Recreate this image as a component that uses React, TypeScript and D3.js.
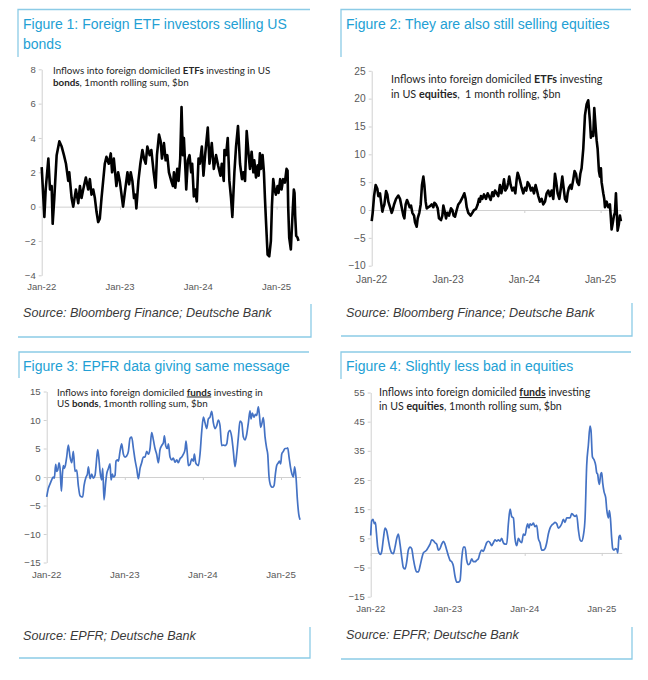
import React, { useEffect, useRef } from "react";
import * as d3 from "d3";

// [years since Jan-22, $bn]
type Pt = [number, number];
type Seg = [string, string?];

const yearTicks = [0, 1, 2, 3];
const yearLabels = ["Jan-22", "Jan-23", "Jan-24", "Jan-25"];

const etfBondTicks = [-4, -2, 0, 2, 4, 6, 8];
const etfEquityTicks = [-10, -5, 0, 5, 10, 15, 20, 25];
const fundBondTicks = [-15, -10, -5, 0, 5, 10, 15];
const fundEquityTicks = [-15, -5, 5, 15, 25, 35, 45, 55];

const etfBonds: Pt[] = [
  [0, 2.3], [0.034, -0.6], [0.051, 1.0], [0.085, 2.8], [0.106, 1.0], [0.127, 1.2], [0.14, -1.0], [0.161, 0.5],
  [0.191, 3.0], [0.225, 3.8], [0.255, 3.5], [0.284, 3.0], [0.31, 2.5], [0.339, 1.5], [0.352, 2.0], [0.382, 0.5],
  [0.403, 0.0], [0.437, 1.0], [0.467, 0.2], [0.488, 1.2], [0.509, 0.5], [0.53, 1.0], [0.564, 1.7], [0.594, 1.0],
  [0.615, 1.6], [0.636, 0.7], [0.658, 1.0], [0.679, 0.5], [0.7, -0.3], [0.721, -0.9], [0.742, -0.7], [0.764, 0.5],
  [0.806, 2.5], [0.827, 2.9], [0.857, 2.5], [0.882, 3.1], [0.899, 2.0], [0.921, 2.8], [0.954, 1.2], [0.976, 2.0],
  [0.997, 1.5], [1.039, 0.0], [1.061, 0.8], [1.095, 2.0], [1.116, 1.3], [1.137, 2.0], [1.158, 1.5], [1.179, 0.5],
  [1.196, 0.7], [1.209, -0.1], [1.235, 1.5], [1.26, 2.5], [1.286, 3.3], [1.307, 2.8], [1.328, 2.5], [1.349, 3.5],
  [1.379, 3.0], [1.4, 3.3], [1.43, 2.0], [1.455, 1.1], [1.472, 3.0], [1.498, 4.2], [1.519, 3.8], [1.536, 2.8],
  [1.561, 3.7], [1.583, 2.7], [1.604, 3.0], [1.625, 2.0], [1.655, 1.5], [1.676, 1.2], [1.689, 2.0], [1.706, 1.1],
  [1.731, 2.2], [1.748, 1.5], [1.769, 2.8], [1.786, 5.8], [1.803, 3.0], [1.816, 4.0], [1.837, 2.0], [1.846, 1.0],
  [1.867, 2.7], [1.888, 3.0], [1.909, 2.0], [1.922, 2.5], [1.943, 0.6], [1.96, 1.0], [1.981, 0.3], [2.003, 2.8],
  [2.02, 2.5], [2.045, 3.5], [2.066, 1.8], [2.087, 3.0], [2.121, 4.6], [2.143, 2.5], [2.172, 3.7], [2.198, 2.2],
  [2.227, 3.0], [2.253, 2.4], [2.283, 1.8], [2.3, 2.5], [2.325, 1.5], [2.334, 3.3], [2.355, 3.0], [2.376, 4.0],
  [2.397, 1.5], [2.418, 0.5], [2.435, -0.6], [2.461, 2.0], [2.482, 3.5], [2.507, 4.7], [2.533, 2.5], [2.558, 1.6],
  [2.575, 2.0], [2.597, 1.5], [2.618, 4.4], [2.643, 3.0], [2.66, 2.2], [2.681, 3.2], [2.703, 2.0], [2.715, 2.7],
  [2.737, 1.7], [2.758, 2.4], [2.771, 1.8], [2.787, 3.1], [2.8, 2.2], [2.821, 3.0], [2.838, 2.0], [2.851, 0.5],
  [2.864, -0.8], [2.885, -2.8], [2.906, -2.9], [2.927, -2.0], [2.94, 0.0], [2.957, 1.6], [2.974, 1.0], [2.991, 0.7],
  [3.012, 1.2], [3.025, 0.8], [3.046, 1.6], [3.063, 1.0], [3.084, 1.6], [3.106, 1.4], [3.127, 2.2], [3.14, 2.1],
  [3.148, 0.0], [3.161, -1.8], [3.182, -2.5], [3.203, -0.5], [3.22, 1.0], [3.229, 0.8], [3.237, -0.5], [3.25, -1.7],
  [3.267, -1.8], [3.28, -2.0],
];

const etfEquities: Pt[] = [
  [0, -2.0], [0.013, -0.5], [0.031, 2.5], [0.052, 4.5], [0.074, 3.8], [0.087, 2.5], [0.109, 3.0], [0.122, 1.5],
  [0.14, -0.3], [0.153, 0.5], [0.166, 1.0], [0.188, 3.4], [0.205, 2.8], [0.218, 1.5], [0.24, 0.5], [0.262, -0.5],
  [0.275, 0.0], [0.293, 1.0], [0.319, 2.0], [0.349, 2.6], [0.371, 2.0], [0.393, 0.5], [0.415, -1.0], [0.428, -1.5],
  [0.445, 1.0], [0.463, 1.8], [0.48, 1.2], [0.498, 0.5], [0.515, 0.8], [0.533, -0.5], [0.555, -1.0], [0.568, -2.2],
  [0.59, -3.0], [0.603, -1.5], [0.624, -0.5], [0.642, 1.0], [0.659, 4.5], [0.677, 6.0], [0.69, 4.5], [0.707, 1.5],
  [0.721, 0.3], [0.742, 0.5], [0.764, 0.7], [0.786, 1.0], [0.808, 0.5], [0.821, 1.3], [0.843, 1.0], [0.865, 0.3],
  [0.882, -1.5], [0.908, -1.8], [0.926, -1.0], [0.939, 0.8], [0.961, -0.5], [0.974, -1.5], [0.991, -0.5], [1.013, -1.0],
  [1.039, 0.3], [1.057, 0.0], [1.074, -1.0], [1.092, -1.2], [1.114, 0.0], [1.135, 1.0], [1.162, 1.5], [1.192, 2.3],
  [1.214, 3.0], [1.231, 2.0], [1.245, 0.5], [1.266, -0.5], [1.297, -1.0], [1.319, -0.5], [1.341, 0.0], [1.367, 0.2],
  [1.389, 1.0], [1.406, 2.0], [1.419, 1.5], [1.432, 2.5], [1.45, 2.0], [1.472, 2.8], [1.498, 2.0], [1.52, 3.0],
  [1.537, 2.5], [1.559, 1.8], [1.581, 3.2], [1.598, 2.5], [1.616, 3.5], [1.638, 3.0], [1.659, 2.5], [1.681, 4.5],
  [1.699, 3.0], [1.716, 4.0], [1.734, 5.5], [1.751, 3.5], [1.773, 4.0], [1.79, 5.0], [1.803, 6.0], [1.821, 4.5],
  [1.843, 3.5], [1.865, 4.0], [1.882, 3.0], [1.9, 5.5], [1.913, 6.7], [1.93, 6.0], [1.948, 5.0], [1.965, 4.0],
  [1.987, 3.0], [2.009, 4.0], [2.026, 3.5], [2.044, 5.0], [2.066, 4.5], [2.087, 3.5], [2.105, 4.0], [2.127, 3.0],
  [2.148, 4.5], [2.166, 3.5], [2.183, 2.5], [2.205, 1.5], [2.227, 2.0], [2.249, 1.0], [2.271, 1.5], [2.293, 3.0],
  [2.314, 3.5], [2.336, 2.5], [2.358, 3.5], [2.38, 2.0], [2.402, 6.5], [2.419, 5.0], [2.437, 3.0], [2.459, 2.0],
  [2.48, 4.0], [2.498, 6.0], [2.515, 4.0], [2.533, 2.0], [2.555, 1.5], [2.568, 3.0], [2.585, 4.0], [2.607, 4.5],
  [2.62, 3.8], [2.642, 5.5], [2.659, 7.0], [2.677, 6.5], [2.694, 5.0], [2.716, 4.5], [2.734, 6.5], [2.751, 7.5],
  [2.773, 11], [2.795, 17], [2.817, 19], [2.838, 19.7], [2.86, 16], [2.873, 13], [2.891, 14], [2.904, 13.3],
  [2.917, 18.3], [2.934, 15], [2.948, 12.5], [2.961, 11], [2.978, 7], [2.991, 6], [3.004, 7.5], [3.013, 5.0],
  [3.035, 3.0], [3.048, 2.0], [3.057, 0.5], [3.079, 1.5], [3.1, 0.5], [3.122, 1.0], [3.135, -1.5], [3.144, -3.5],
  [3.157, -2.5], [3.175, -1.0], [3.188, -0.5], [3.201, 3.0], [3.214, -1.0], [3.223, -3.7], [3.24, -2.5], [3.253, -1.0],
  [3.266, -2.0],
];

const fundBonds: Pt[] = [
  [0, -3.5], [0.021, -2.0], [0.043, -1.2], [0.064, -0.5], [0.085, 0.0], [0.098, -0.2], [0.115, 2.2], [0.128, 1.0],
  [0.141, 1.2], [0.158, 2.5], [0.171, 1.5], [0.188, -2.5], [0.201, 0.5], [0.213, 2.0], [0.226, 1.5], [0.239, 2.0],
  [0.256, 3.5], [0.277, 5.6], [0.299, 3.5], [0.32, 2.5], [0.341, 4.5], [0.363, 1.0], [0.384, 1.2], [0.405, -1.5],
  [0.427, -3.3], [0.448, -3.5], [0.461, -3.5], [0.478, -1.5], [0.504, 0.0], [0.521, 0.5], [0.534, 1.8], [0.555, -0.3],
  [0.576, 0.5], [0.598, -0.2], [0.619, 0.3], [0.632, 2.0], [0.653, 4.8], [0.67, 3.0], [0.683, 1.0], [0.704, -0.5],
  [0.717, 1.5], [0.734, -4.0], [0.755, -1.0], [0.768, 0.5], [0.79, 1.5], [0.811, 2.3], [0.824, -0.5], [0.841, 0.5],
  [0.854, 0.0], [0.875, 0.3], [0.888, 2.8], [0.905, 3.0], [0.918, 2.8], [0.939, 4.5], [0.96, 5.8], [0.982, 4.0],
  [1.003, 3.5], [1.024, 3.7], [1.046, 4.5], [1.067, 6.8], [1.088, 7.0], [1.11, 5.0], [1.131, 3.0], [1.152, 1.5],
  [1.174, -0.3], [1.195, 1.5], [1.216, 2.5], [1.238, 3.5], [1.259, 3.5], [1.28, 4.5], [1.302, 4.0], [1.323, 5.0],
  [1.344, 7.8], [1.366, 6.5], [1.387, 5.0], [1.408, 4.0], [1.43, 2.5], [1.451, 4.8], [1.472, 5.5], [1.494, 6.0],
  [1.507, 7.2], [1.524, 5.5], [1.545, 5.0], [1.558, 5.8], [1.579, 3.5], [1.601, 3.0], [1.622, 3.3], [1.643, 2.6],
  [1.665, 3.0], [1.686, 2.5], [1.707, 3.2], [1.729, 3.5], [1.75, 4.0], [1.771, 4.8], [1.784, 6.3], [1.801, 4.0],
  [1.814, 2.0], [1.835, 2.2], [1.857, 3.2], [1.878, 2.8], [1.891, 4.0], [1.908, 2.5], [1.921, 2.2], [1.942, 2.0],
  [1.963, 4.0], [1.985, 8.0], [2.006, 10.5], [2.027, 9.5], [2.049, 8.5], [2.07, 10.2], [2.091, 10.5], [2.113, 11.5],
  [2.134, 9.5], [2.155, 8.5], [2.177, 9.0], [2.198, 10.0], [2.219, 9.0], [2.241, 5.5], [2.262, 5.6], [2.283, 5.5],
  [2.305, 5.8], [2.326, 7.8], [2.347, 8.2], [2.369, 7.0], [2.39, 4.5], [2.411, 1.8], [2.433, 4.0], [2.454, 7.0],
  [2.475, 9.8], [2.497, 9.5], [2.518, 7.0], [2.539, 6.5], [2.561, 7.5], [2.582, 9.5], [2.603, 11.6], [2.616, 10.2],
  [2.633, 11.2], [2.655, 10.5], [2.672, 11.0], [2.689, 10.8], [2.71, 12.3], [2.723, 11.0], [2.74, 8.7], [2.757, 9.5],
  [2.774, 10.4], [2.796, 7.0], [2.817, 5.0], [2.83, 4.0], [2.847, 0.0], [2.868, -1.5], [2.889, -1.8], [2.911, -1.5],
  [2.928, 0.5], [2.945, 2.0], [2.966, 2.5], [2.979, 2.8], [2.996, 2.3], [3.009, 4.0], [3.03, 4.5], [3.052, 5.0],
  [3.073, 5.0], [3.086, 5.1], [3.103, 3.5], [3.124, 1.5], [3.141, 0.5], [3.158, 0.0], [3.175, 1.8], [3.192, 0.0],
  [3.21, -4.0], [3.227, -6.5], [3.244, -7.5],
];

const fundEquities: Pt[] = [
  [0, 6.0], [0.013, 11.0], [0.03, 11.5], [0.048, 10.0], [0.061, 10.5], [0.074, 7.0], [0.091, 2.0], [0.108, 0.0],
  [0.126, -0.5], [0.143, 0.5], [0.165, 5.0], [0.186, 8.5], [0.208, 7.5], [0.229, 4.5], [0.251, 1.5], [0.273, 0.0],
  [0.294, -0.2], [0.316, 2.0], [0.338, 5.0], [0.359, 6.5], [0.381, 3.0], [0.403, -1.5], [0.424, -5.0], [0.446, -5.5],
  [0.468, -3.0], [0.489, 1.0], [0.511, 2.0], [0.532, 1.5], [0.554, -2.0], [0.576, -5.0], [0.597, -6.5], [0.619, -6.5],
  [0.641, -4.5], [0.662, -2.0], [0.684, 0.0], [0.706, 0.5], [0.727, 1.0], [0.749, 2.0], [0.771, 3.0], [0.792, 4.5],
  [0.814, 4.2], [0.835, 3.5], [0.857, 3.0], [0.879, 1.0], [0.9, 1.5], [0.922, 3.0], [0.944, 4.0], [0.965, 3.0],
  [0.987, 1.0], [1.009, -1.0], [1.03, -2.5], [1.052, -3.0], [1.074, -4.5], [1.095, -8.0], [1.117, -10.0], [1.139, -10.0],
  [1.16, -9.5], [1.182, -2.0], [1.203, 2.0], [1.225, 2.0], [1.247, -2.5], [1.268, -4.0], [1.29, -3.5], [1.312, -2.0],
  [1.333, -3.0], [1.355, -3.0], [1.377, -2.5], [1.398, -2.0], [1.42, 0.0], [1.442, 1.0], [1.463, 0.5], [1.485, 2.0],
  [1.506, 3.5], [1.528, 4.0], [1.55, 3.5], [1.571, 2.5], [1.593, 3.5], [1.615, 4.5], [1.636, 4.0], [1.658, 4.5],
  [1.68, 4.0], [1.701, 5.0], [1.723, 3.5], [1.745, 3.0], [1.766, 3.0], [1.788, 10.0], [1.81, 15.0], [1.831, 12.5],
  [1.853, 12.0], [1.874, 5.0], [1.896, 2.5], [1.918, 5.0], [1.939, 4.0], [1.961, 3.5], [1.983, 6.5], [2.004, 6.0],
  [2.026, 9.0], [2.039, 10.0], [2.056, 8.5], [2.069, 10.0], [2.091, 9.5], [2.113, 10.2], [2.134, 9.0], [2.156, 9.5],
  [2.177, 5.0], [2.199, 3.5], [2.221, 1.0], [2.242, 1.0], [2.264, 1.5], [2.286, 3.5], [2.307, 6.5], [2.329, 8.5],
  [2.351, 9.5], [2.372, 10.0], [2.394, 10.5], [2.416, 10.0], [2.437, 8.5], [2.459, 9.0], [2.481, 10.0], [2.502, 11.5],
  [2.524, 10.5], [2.545, 12.0], [2.567, 12.0], [2.589, 12.0], [2.61, 13.5], [2.632, 13.0], [2.654, 12.5], [2.675, 13.0],
  [2.697, 8.0], [2.719, 4.5], [2.74, 4.0], [2.762, 6.0], [2.784, 12.0], [2.805, 30.0], [2.827, 37.0], [2.848, 43.5],
  [2.861, 42.0], [2.879, 33.0], [2.9, 32.0], [2.922, 30.0], [2.935, 27.5], [2.948, 27.0], [2.957, 25.0], [2.97, 23.5],
  [2.987, 27.0], [3.0, 27.5], [3.013, 24.0], [3.03, 21.0], [3.052, 19.0], [3.065, 15.0], [3.087, 12.0], [3.1, 14.5],
  [3.113, 12.0], [3.13, 5.0], [3.143, 1.5], [3.16, 1.0], [3.182, 1.5], [3.199, 1.0], [3.208, 0.0], [3.225, 5.5],
  [3.238, 6.0], [3.251, 4.5],
];

const titles = [
  ["Figure 1: Foreign ETF investors selling US", "bonds"],
  ["Figure 2: They are also still selling equities"],
  ["Figure 3: EPFR data giving same message"],
  ["Figure 4: Slightly less bad in equities"],
];

// "b" = bold, "u" = bold + underline
const subtitles: Seg[][][] = [
  [[["Inflows into foreign domiciled "], ["ETFs", "b"], [" investing in US"]], [["bonds", "b"], [", 1month rolling sum, $bn"]]],
  [[["Inflows into foreign domiciled "], ["ETFs", "b"], [" investing"]], [["in US "], ["equities", "b"], [",  1 month rolling, $bn"]]],
  [[["Inflows into foreign domiciled "], ["funds", "u"], [" investing in"]], [["US "], ["bonds", "b"], [", 1month rolling sum, $bn"]]],
  [[["Inflows into foreign domiciled "], ["funds", "u"], [" investing"]], [["in US "], ["equities", "b"], [", 1month rolling sum, $bn"]]],
];

const sources = [
  "Source: Bloomberg Finance; Deutsche Bank",
  "Source: Bloomberg Finance; Deutsche Bank",
  "Source: EPFR; Deutsche Bank",
  "Source: EPFR; Deutsche Bank",
];

const FRAME = "#8ccbe6";
const TITLE = "#239fd4";
const AXIS = "#d0d0d0";
const TICK = "#595959";
const ARIAL = "'Liberation Sans', Arial, sans-serif";
const SUBFONT = "Lato, 'Open Sans', sans-serif";

const panels = [
  {
    data: etfBonds, yTicks: etfBondTicks, color: "#000", width: 2.6, smooth: false,
    frame: { l: 18, r: 311, t: 9.5, b: 337, tDrop: 57, bRise: 304 },
    titleX: 23, titleY: [29.3, 48.7],
    x0: 41.7, ppy: 78.3, xEnd: 3.29, yTop: 69.3, yBot: 275.3, xLabY: 287, tickFont: 9.5,
    subX: 53, subY: [73.5, 86], subFont: 9.8,
    srcX: 23, srcY: 317,
  },
  {
    data: etfEquities, yTicks: etfEquityTicks, color: "#000", width: 2.6, smooth: false,
    frame: { l: 341, r: 632, t: 9.5, b: 336, tDrop: 57, bRise: 303 },
    titleX: 346, titleY: [29.3],
    x0: 371.7, ppy: 76.3, xEnd: 3.28, yTop: 70.8, yBot: 265.7, xLabY: 279.3, tickFont: 10.2,
    subX: 391, subY: [83.3, 97.7], subFont: 10.8,
    srcX: 346, srcY: 317,
  },
  {
    data: fundBonds, yTicks: fundBondTicks, color: "#4472c4", width: 1.7, smooth: true,
    frame: { l: 19, r: 310, t: 352, b: 658, tDrop: 378, bRise: 627 },
    titleX: 23, titleY: [371],
    x0: 46.7, ppy: 78.1, xEnd: 3.25, yTop: 391.5, yBot: 562.5, xLabY: 575, tickFont: 9.7,
    subX: 57, subY: [395.5, 406.5], subFont: 9.8,
    srcX: 23, srcY: 640,
  },
  {
    data: fundEquities, yTicks: fundEquityTicks, color: "#4472c4", width: 1.7, smooth: true,
    frame: { l: 341, r: 632, t: 352, b: 659, tDrop: 379, bRise: 627 },
    titleX: 346, titleY: [370.7],
    x0: 370.7, ppy: 77, xEnd: 3.26, yTop: 392.5, yBot: 596.7, xLabY: 608.3, tickFont: 9.5,
    subX: 379, subY: [396, 409.5], subFont: 10.6,
    srcX: 346, srcY: 639,
  },
];

function drawPanel(root: d3.Selection<SVGSVGElement, unknown, null, undefined>, p: typeof panels[number], i: number) {
  const g = root.append("g");
  const f = p.frame;

  // Frame: top-left bracket and bottom-right bracket
  g.append("path")
    .attr("d", `M${f.l},${f.tDrop}V${f.t}H${f.r - 1}`)
    .attr("fill", "none").attr("stroke", FRAME).attr("stroke-width", 1.3);
  g.append("path")
    .attr("d", `M${f.l},${f.b}H${f.r}V${f.bRise}`)
    .attr("fill", "none").attr("stroke", FRAME).attr("stroke-width", 1.3);

  // Title
  titles[i].forEach((line, k) => {
    g.append("text")
      .attr("x", p.titleX).attr("y", p.titleY[k])
      .attr("font-family", ARIAL).attr("font-size", 14)
      .attr("fill", TITLE)
      .text(line);
  });

  const x = d3.scaleLinear().domain([0, p.xEnd]).range([p.x0, p.x0 + p.xEnd * p.ppy]);
  const y = d3.scaleLinear()
    .domain([p.yTicks[0], p.yTicks[p.yTicks.length - 1]])
    .range([p.yBot, p.yTop]);

  // Y axis
  g.append("g")
    .attr("transform", `translate(${p.x0},0)`)
    .call(d3.axisLeft(y).tickValues(p.yTicks).tickSize(3).tickSizeOuter(0).tickPadding(3))
    .call(a => a.select(".domain").attr("stroke", AXIS))
    .call(a => a.selectAll(".tick line").attr("stroke", AXIS))
    .call(a => a.selectAll("text")
      .attr("fill", TICK).attr("font-family", ARIAL).attr("font-size", p.tickFont));

  // Horizontal axis sits on zero
  g.append("g")
    .attr("transform", `translate(0,${y(0)})`)
    .call(d3.axisBottom(x).tickValues(yearTicks).tickSize(3).tickSizeOuter(0).tickFormat(() => ""))
    .call(a => a.select(".domain").attr("stroke", AXIS))
    .call(a => a.selectAll(".tick line").attr("stroke", AXIS));

  // Date labels at the bottom
  g.selectAll(".xlab")
    .data(yearTicks)
    .join("text")
    .attr("x", d => x(d))
    .attr("y", p.xLabY)
    .attr("dy", "0.35em")
    .attr("text-anchor", "middle")
    .attr("fill", TICK)
    .attr("font-family", ARIAL)
    .attr("font-size", p.tickFont)
    .text((d, k) => yearLabels[k]);

  // Series
  const line = d3.line<Pt>()
    .x(d => x(d[0]))
    .y(d => y(d[1]))
    .curve(p.smooth ? d3.curveMonotoneX : d3.curveLinear);

  g.append("path")
    .datum(p.data)
    .attr("fill", "none")
    .attr("stroke", p.color)
    .attr("stroke-width", p.width)
    .attr("stroke-linejoin", "round")
    .attr("d", line);

  // Subtitle inside the plot
  subtitles[i].forEach((segs, k) => {
    const t = g.append("text")
      .attr("x", p.subX).attr("y", p.subY[k])
      .attr("font-family", SUBFONT).attr("font-size", p.subFont)
      .attr("fill", "#262626")
      .style("white-space", "pre");
    segs.forEach(([txt, st]) => {
      const s = t.append("tspan").text(txt);
      if (st) s.attr("font-weight", "bold");
      if (st === "u") s.attr("text-decoration", "underline");
    });
  });

  // Source
  g.append("text")
    .attr("x", p.srcX).attr("y", p.srcY)
    .attr("font-family", ARIAL).attr("font-size", 12.6)
    .attr("font-style", "italic")
    .attr("fill", "#3a3a3a")
    .text(sources[i]);
}

export default function App() {
  const svgRef = useRef<SVGSVGElement | null>(null);

  useEffect(() => {
    if (!svgRef.current) return;
    const svg = d3.select(svgRef.current);
    svg.selectAll("*").remove();
    svg.append("rect").attr("width", 648).attr("height", 680).attr("fill", "#fff");
    panels.forEach((p, i) => drawPanel(svg, p, i));
  }, []);

  return (
    <svg
      ref={svgRef}
      width={648}
      height={680}
      style={{ position: "absolute", left: 0, top: 0, display: "block" }}
    />
  );
}
